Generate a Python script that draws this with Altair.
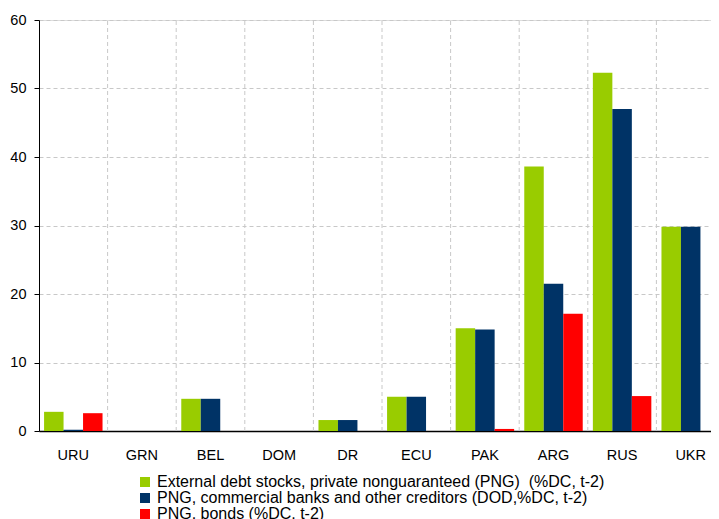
import altair as alt
import pandas as pd

categories = ["URU", "GRN", "BEL", "DOM", "DR", "ECU", "PAK", "ARG", "RUS", "UKR"]
series_names = [
    "External debt stocks, private nonguaranteed (PNG)\u00a0 (%DC, t-2)",
    "PNG, commercial banks and other creditors (DOD,%DC, t-2)",
    "PNG, bonds (%DC, t-2)",
]
png_total = [2.8, 0, 4.7, 0, 1.6, 5.0, 15.0, 38.6, 52.3, 29.8]
png_banks = [0.2, 0, 4.7, 0, 1.6, 5.0, 14.8, 21.5, 47.0, 29.8]
png_bonds = [2.6, 0, 0, 0, 0, 0, 0.3, 17.1, 5.1, 0]
colors = ["#99CC00", "#003366", "#FF0000"]
y_ticks = [0, 10, 20, 30, 40, 50, 60]

rows = []
for s, vals in zip(series_names, [png_total, png_banks, png_bonds]):
    for c, v in zip(categories, vals):
        rows.append({"cat": c, "series": s, "value": v})
df = pd.DataFrame(rows)
grid_df = pd.DataFrame({"cat": categories[1:]})

FONT = "Liberation Sans"

x_axis = alt.Axis(title=None, ticks=False, labelPadding=17, labelFontSize=14.5,
                  labelFont=FONT, labelColor="#000000", domainColor="#000000",
                  domainWidth=1.5, grid=False, labelAngle=0)
x_scale = alt.Scale(domain=categories, paddingInner=0, paddingOuter=0, range=[0, 686])

rules = alt.Chart(grid_df).mark_rule(color="#c8c8c8", strokeDash=[4, 3], strokeWidth=1).encode(
    x=alt.X("cat:N", bandPosition=0, scale=x_scale, axis=x_axis, sort=categories),
    y=alt.datum(0),
    y2=alt.datum(60),
)

bars = alt.Chart(df).mark_bar().encode(
    x=alt.X("cat:N", scale=x_scale, axis=x_axis, sort=categories),
    xOffset=alt.XOffset("series:N", sort=series_names,
                        scale=alt.Scale(domain=series_names, paddingOuter=0.26, paddingInner=0)),
    y=alt.Y("value:Q", scale=alt.Scale(domain=[0, 60], nice=False),
            axis=alt.Axis(title=None, values=y_ticks, tickSize=5, tickColor="#000000",
                          domainColor="#000000", labelColor="#000000", labelFontSize=14.5,
                          labelFont=FONT, labelPadding=8, grid=True, gridColor="#c8c8c8",
                          gridDash=[4, 3], gridWidth=1)),
    color=alt.Color("series:N", sort=series_names,
                    scale=alt.Scale(domain=series_names, range=colors),
                    legend=alt.Legend(orient="none", legendX=98, legendY=454, title=None,
                                      symbolType="square", symbolSize=100, labelFontSize=16,
                                      labelFont=FONT, labelColor="#000000", rowPadding=0,
                                      labelLimit=700, symbolStrokeWidth=0, labelOffset=4)),
)

chart = alt.layer(rules, bars).properties(
    width=672, height=411,
    autosize=alt.AutoSizeParams(type="none"),
).configure_view(
    stroke=None
).configure(padding={"left": 31, "top": 12, "right": 0, "bottom": 100})

chart.save("out.html", embed_options={"renderer": "svg", "actions": False})
